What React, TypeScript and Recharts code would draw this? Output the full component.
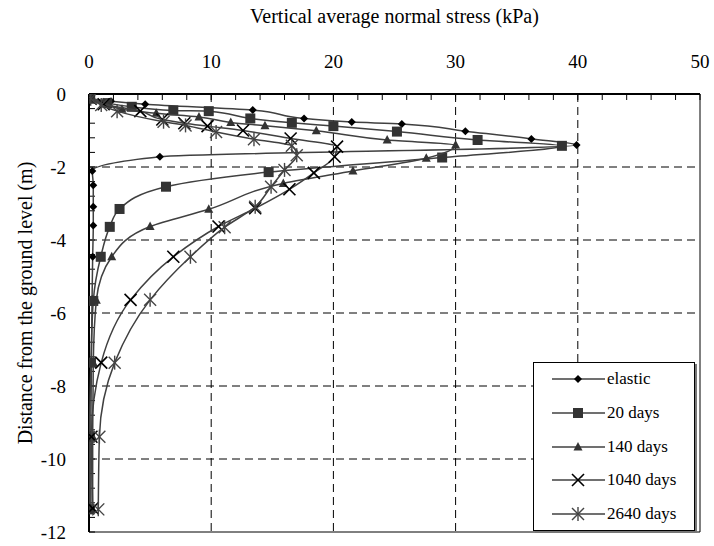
import React from "react";
import { ScatterChart, Scatter, XAxis, YAxis, ReferenceLine, ReferenceArea } from "recharts";

type Pt = { x: number; y: number };
const pts = (rows: number[][]): Pt[] => rows.map(([x, y]) => ({ x, y }));

// stress (kPa) vs depth (m)
const elastic = pts([
  [0.1, -0.13], [1.8, -0.2], [4.6, -0.28], [13.4, -0.44], [17.6, -0.67], [21.5, -0.77],
  [25.6, -0.82], [30.8, -1.02], [36.2, -1.23], [39.9, -1.4], [5.8, -1.72], [0.27, -2.11],
  [0.35, -2.5], [0.35, -3.09], [0.35, -3.6], [0.3, -4.46], [0.25, -5.62], [0.2, -7.33],
  [0.15, -9.35], [0.15, -11.35],
]);

const days20 = pts([
  [0.1, -0.13], [1.5, -0.25], [3.5, -0.35], [6.9, -0.45], [9.8, -0.47], [13.2, -0.67],
  [16.6, -0.79], [20.0, -0.88], [25.2, -1.03], [31.8, -1.26], [38.7, -1.42], [28.9, -1.74],
  [14.7, -2.14], [6.3, -2.54], [2.5, -3.15], [1.7, -3.64], [0.96, -4.46], [0.35, -5.67],
  [0.16, -7.36], [0.05, -9.39], [0.05, -11.38],
]);

const days140 = pts([
  [0.1, -0.13], [1.2, -0.24], [2.7, -0.42], [5.5, -0.53], [9.0, -0.63], [11.6, -0.78],
  [14.4, -0.87], [18.6, -1.01], [24.4, -1.26], [30.0, -1.4], [27.6, -1.76], [21.6, -2.11],
  [15.9, -2.45], [9.8, -3.16], [5.0, -3.63], [1.86, -4.46], [0.6, -5.65], [0.35, -7.36],
  [0.3, -9.39], [0.3, -11.38],
]);

const days1040 = pts([
  [0.14, -0.13], [1.2, -0.28], [4.2, -0.47], [6.0, -0.7], [7.8, -0.8], [9.7, -0.88],
  [12.6, -1.0], [16.5, -1.22], [20.3, -1.44], [20.1, -1.72], [18.4, -2.16], [16.4, -2.61],
  [13.6, -3.13], [10.6, -3.63], [6.9, -4.46], [3.4, -5.64], [1.0, -7.36], [0.2, -9.39],
  [0.3, -11.35],
]);

const days2640 = pts([
  [0.14, -0.13], [1.0, -0.3], [2.3, -0.47], [6.1, -0.76], [7.9, -0.86], [10.4, -1.04],
  [13.5, -1.24], [16.6, -1.42], [17.0, -1.68], [16.0, -2.08], [14.9, -2.54], [13.6, -3.09],
  [11.1, -3.65], [8.3, -4.46], [5.0, -5.64], [2.1, -7.36], [0.85, -9.39], [0.76, -11.38],
]);

const xTicks = [0, 2, 4, 6, 8, 10, 12, 14, 16, 18, 20, 22, 24, 26, 28, 30, 32, 34, 36, 38, 40, 42, 44, 46, 48, 50];
const yTicks = [
  0, -0.4, -0.8, -1.2, -1.6, -2, -2.4, -2.8, -3.2, -3.6, -4, -4.4, -4.8, -5.2, -5.6, -6,
  -6.4, -6.8, -7.2, -7.6, -8, -8.4, -8.8, -9.2, -9.6, -10, -10.4, -10.8, -11.2, -11.6, -12,
];
const xGrid = [10, 20, 30, 40];
const yGrid = [-2, -4, -6, -8, -10];

type Kind = "diamond" | "square" | "triangle" | "cross" | "star";

const series: { name: string; data: Pt[]; kind: Kind }[] = [
  { name: "elastic", data: elastic, kind: "diamond" },
  { name: "20 days", data: days20, kind: "square" },
  { name: "140 days", data: days140, kind: "triangle" },
  { name: "1040 days", data: days1040, kind: "cross" },
  { name: "2640 days", data: days2640, kind: "star" },
];

const LINE = "#404040";
const FONT = '"Liberation Serif", Tinos, "DejaVu Serif", "Noto Serif", "Times New Roman", Times, serif';

function Marker({ kind, cx, cy }: { kind: Kind; cx: number; cy: number }) {
  if (cx == null || cy == null) return null;
  switch (kind) {
    case "diamond":
      return <polygon points={`${cx},${cy - 4} ${cx + 4},${cy} ${cx},${cy + 4} ${cx - 4},${cy}`} fill="#000" />;
    case "square":
      return <rect x={cx - 5} y={cy - 5} width={10} height={10} fill="#333" />;
    case "triangle":
      return <polygon points={`${cx},${cy - 5} ${cx + 4.5},${cy + 3.5} ${cx - 4.5},${cy + 3.5}`} fill="#333" />;
    case "cross":
      return (
        <g stroke="#000" strokeWidth={1.6}>
          <line x1={cx - 6} y1={cy - 6} x2={cx + 6} y2={cy + 6} />
          <line x1={cx - 6} y1={cy + 6} x2={cx + 6} y2={cy - 6} />
        </g>
      );
    default:
      return (
        <g stroke="#444" strokeWidth={1.4}>
          <line x1={cx - 6} y1={cy - 6} x2={cx + 6} y2={cy + 6} />
          <line x1={cx - 6} y1={cy + 6} x2={cx + 6} y2={cy - 6} />
          <line x1={cx} y1={cy - 7} x2={cx} y2={cy + 7} />
        </g>
      );
  }
}

const Legendbox = () => (
  <div
    style={{
      position: "absolute",
      left: 533,
      top: 362,
      width: 160,
      height: 167,
      background: "#fff",
      border: "1px solid #000",
      boxShadow: "2px 2px 0 #777",
      fontFamily: FONT,
      fontSize: 17,
    }}
  >
    {series.map((s, i) => (
      <div key={s.name} style={{ position: "absolute", left: 0, top: 1 + i * 33.8, height: 30, display: "flex", alignItems: "center" }}>
        <svg width={72} height={30}>
          <line x1={18} y1={15} x2={71} y2={15} stroke={LINE} strokeWidth={1.5} />
          <Marker kind={s.kind} cx={44} cy={15} />
        </svg>
        <span style={{ marginLeft: 1 }}>{s.name}</span>
      </div>
    ))}
  </div>
);

const YTitle = () => (
  <text transform="rotate(-90)" x={-303} y={32} textAnchor="middle" fontSize={20} fill="#000" fontFamily={FONT}>
    Distance from the ground level (m)
  </text>
);

export default function App() {
  return (
    <div style={{ position: "absolute", left: 0, top: 0, width: 714, height: 546, background: "#fff", fontFamily: FONT }}>
      <ScatterChart width={714} height={546} margin={{ top: 0, right: 14, bottom: 14, left: 0 }} style={{ fontFamily: FONT }}>
        <XAxis
          type="number"
          dataKey="x"
          orientation="top"
          domain={[0, 50]}
          ticks={xTicks}
          interval={0}
          height={94}
          tickSize={-6}
          tickMargin={32}
          tick={{ fill: "#000", fontSize: 19, fontFamily: FONT }}
          tickFormatter={(v: number) => (v % 10 === 0 ? String(v) : "")}
          axisLine={{ stroke: "#000", strokeWidth: 2 }}
          tickLine={{ stroke: "#000" }}
          allowDataOverflow
          label={{ value: "Vertical average normal stress (kPa)", position: "insideTop", offset: 9, fill: "#000", fontSize: 20, fontFamily: FONT }}
        />
        <YAxis
          type="number"
          dataKey="y"
          domain={[-12, 0]}
          ticks={yTicks}
          interval={0}
          width={89}
          tickSize={-6}
          tickMargin={29}
          tick={{ fill: "#000", fontSize: 19, fontFamily: FONT }}
          tickFormatter={(v: number) => (Math.abs(v % 2) < 1e-6 ? String(v) : "")}
          axisLine={{ stroke: "#000", strokeWidth: 2 }}
          tickLine={{ stroke: "#000" }}
          allowDataOverflow
          label={<YTitle />}
        />
        {xGrid.map((v) => (
          <ReferenceLine key={`x${v}`} x={v} stroke="#000" strokeDasharray="8 5" strokeWidth={1} />
        ))}
        {yGrid.map((v) => (
          <ReferenceLine key={`y${v}`} y={v} stroke="#000" strokeDasharray="8 5" strokeWidth={1} />
        ))}
        <ReferenceArea x1={0} x2={50} y1={-12} y2={0} fill="none" stroke="#000" strokeWidth={1} />
        {series.map((s) => (
          <Scatter
            key={s.name}
            name={s.name}
            data={s.data}
            line={{ stroke: LINE, strokeWidth: 1.5 }}
            lineJointType="monotoneY"
            shape={(p: any) => <Marker kind={s.kind} cx={p.cx} cy={p.cy} />}
            isAnimationActive={false}
          />
        ))}
      </ScatterChart>
      <Legendbox />
    </div>
  );
}
